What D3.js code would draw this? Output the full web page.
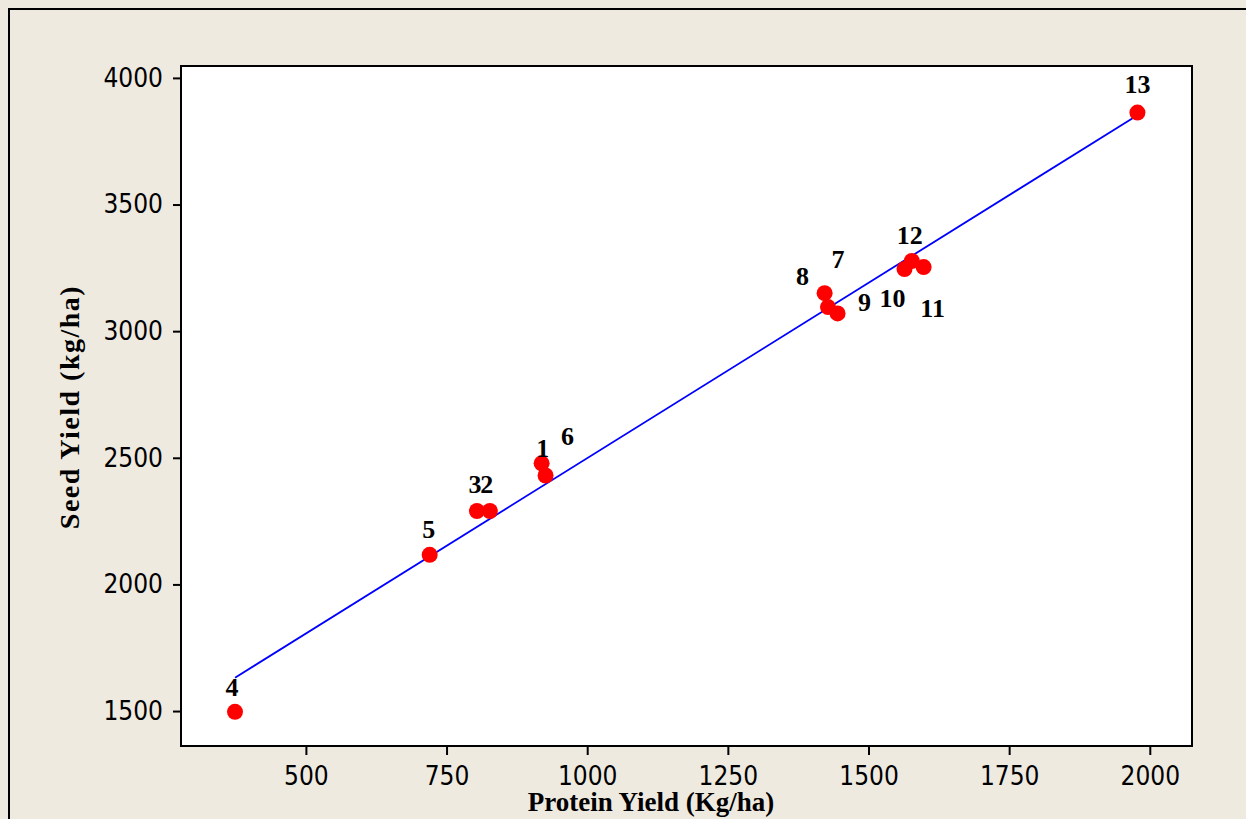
<!DOCTYPE html>
<html>
<head>
<meta charset="utf-8">
<style>
  body { margin: 0; background: #eeeae0; }
  svg { display: block; }
  .tick text { font-family: "DejaVu Sans Condensed", "DejaVu Sans", sans-serif; font-stretch: condensed; font-size: 26px; fill: #000; }
  .lbl, .title { font-family: "Liberation Serif", "Times New Roman", serif; font-weight: bold; fill: #000; }
</style>
</head>
<body>
<svg width="1246" height="819"></svg>
<script src="https://d3js.org/d3.v7.min.js"></script>
<script>
// genotype numbers and their yields
const genotypes = ["1", "2", "3", "4", "5", "6", "7", "8", "9", "10", "11", "12", "13"]
const proteinYield = [919, 827, 804, 374, 720, 926, 1428, 1422, 1445, 1564, 1598, 1577, 1978]
const seedYield = [2478, 2290, 2290, 1497, 2117, 2430, 3095, 3150, 3070, 3245, 3253, 3277, 3863]

const xTicks = [500, 750, 1000, 1250, 1500, 1750, 2000]
const yTicks = [1500, 2000, 2500, 3000, 3500, 4000]

// label offsets (px) from each point, Minitab put them a bit all over
const labelOffsets = [[1, -6], [-3, -18], [-2, -18], [-3, -16], [-1, -17], [22, -31], [10, -39], [-22, -8], [27, -2], [-12, 38], [9, 50], [-2, -17], [0, -20]]

const svg = d3.select("svg")
const W = 1246, H = 819

// outer frame
svg.append("rect").attr("x", 9).attr("y", 9).attr("width", W + 10).attr("height", H + 10)
  .attr("fill", "none").attr("stroke", "#000").attr("stroke-width", 2)

const mLeft = 181, mRight = 1192, mTop = 66, mBottom = 746

const x = d3.scaleLinear().domain([278, 2075]).range([mLeft, mRight])
const y = d3.scaleLinear().domain([1362, 4047]).range([mBottom, mTop])

svg.append("rect").attr("x", mLeft).attr("y", mTop).attr("width", mRight - mLeft).attr("height", mBottom - mTop)
  .attr("fill", "#fff").attr("stroke", "#000").attr("stroke-width", 2)

const xAxis = svg.append("g").attr("transform", `translate(0,${mBottom})`)
  .call(d3.axisBottom(x).tickValues(xTicks).tickFormat(d3.format("d")).tickSize(9).tickPadding(12).tickSizeOuter(0))
xAxis.select(".domain").remove()
xAxis.selectAll("line").attr("stroke-width", 2)

const yAxis = svg.append("g").attr("transform", `translate(${mLeft},0)`)
  .call(d3.axisLeft(y).tickValues(yTicks).tickFormat(d3.format("d")).tickSize(8).tickPadding(10).tickSizeOuter(0))
yAxis.select(".domain").remove()
yAxis.selectAll("line").attr("stroke-width", 2)

// least squares fit
const n = proteinYield.length
const mx = d3.mean(proteinYield), my = d3.mean(seedYield)
let sxy = 0, sxx = 0
for (let i = 0; i < n; i++) {
  sxy += (proteinYield[i] - mx) * (seedYield[i] - my)
  sxx += (proteinYield[i] - mx) ** 2
}
const slope = sxy / sxx, icpt = my - slope * mx
const [x0, x1] = d3.extent(proteinYield)

svg.append("line")
  .attr("x1", x(x0)).attr("y1", y(icpt + slope * x0))
  .attr("x2", x(x1)).attr("y2", y(icpt + slope * x1))
  .attr("stroke", "#0000ff").attr("stroke-width", 1.8)

svg.selectAll("circle.pt").data(genotypes).join("circle")
  .attr("class", "pt")
  .attr("cx", (d, i) => x(proteinYield[i]))
  .attr("cy", (d, i) => y(seedYield[i]))
  .attr("r", 8)
  .attr("fill", "#ff0000")

svg.selectAll("text.lbl").data(genotypes).join("text")
  .attr("class", "lbl")
  .attr("x", (d, i) => x(proteinYield[i]) + labelOffsets[i][0])
  .attr("y", (d, i) => y(seedYield[i]) + labelOffsets[i][1])
  .attr("text-anchor", "middle")
  .attr("font-size", 26)
  .text(d => d)

svg.append("text").attr("class", "title")
  .attr("x", 651).attr("y", 811)
  .attr("text-anchor", "middle").attr("font-size", 27)
  .text("Protein Yield (Kg/ha)")

svg.append("text").attr("class", "title")
  .attr("transform", "translate(79,407) rotate(-90)")
  .attr("text-anchor", "middle").attr("font-size", 28)
  .attr("letter-spacing", 1.5)
  .text("Seed Yield (kg/ha)")
</script>
</body>
</html>
